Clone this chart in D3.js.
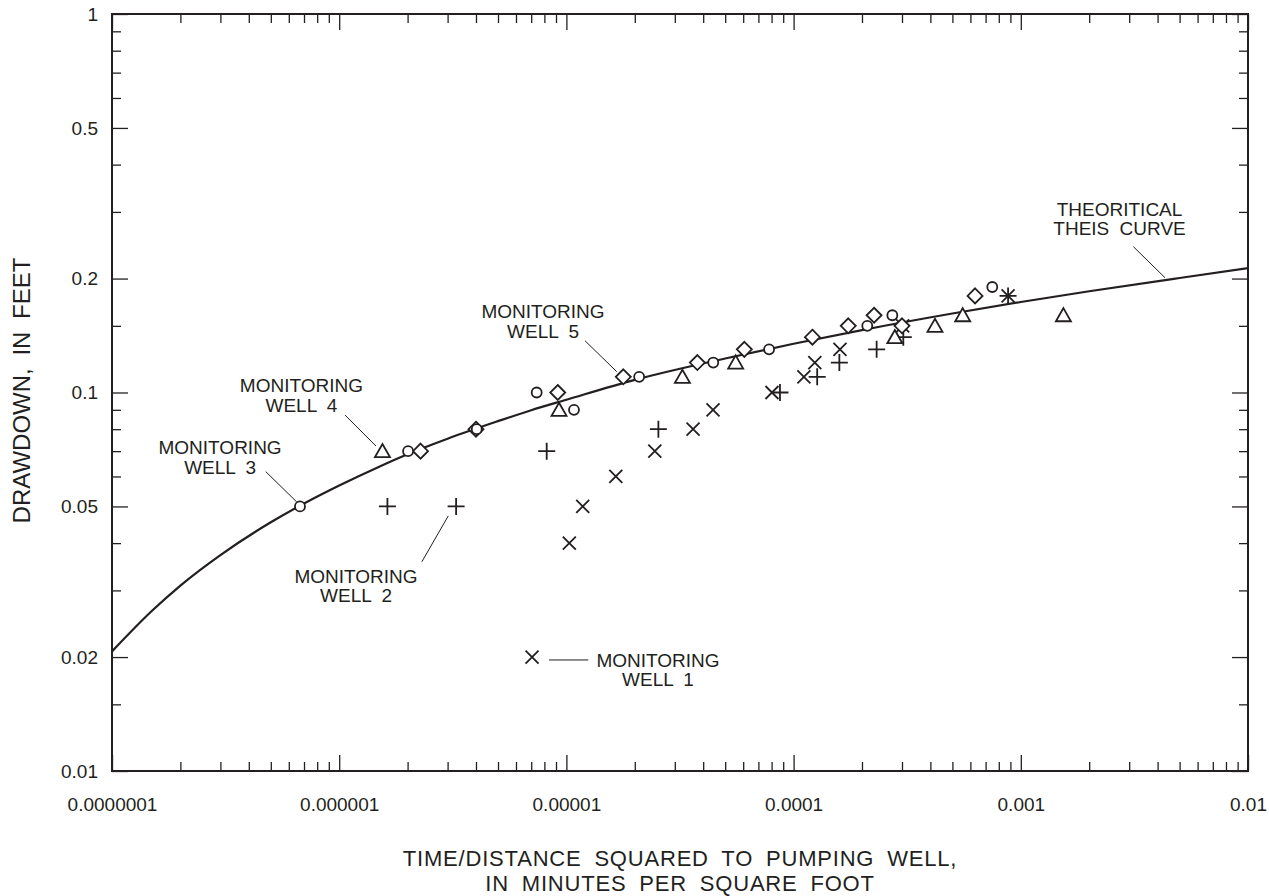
<!DOCTYPE html>
<html>
<head>
<meta charset="utf-8">
<script src="https://cdn.jsdelivr.net/npm/d3@7"></script>
<style>
  html, body { margin: 0; padding: 0; background: #fff; }
  svg { display: block; font-family: "Liberation Sans", Arial, Helvetica, sans-serif; }
</style>
</head>
<body>
<svg id="chart" width="1269" height="896"></svg>
<script>
// Axis ticks
const xTickValues = [1e-7, 1e-6, 1e-5, 1e-4, 1e-3, 1e-2];
const xTickLabels = ["0.0000001", "0.000001", "0.00001", "0.0001", "0.001", "0.01"];
const yTickValues = [0.01, 0.02, 0.05, 0.1, 0.2, 0.5, 1];
const yTickLabels = ["0.01", "0.02", "0.05", "0.1", "0.2", "0.5", "1"];
const yMinorTicks = [0.015, 0.03, 0.04, 0.06, 0.07, 0.08, 0.09, 0.15, 0.3, 0.4, 0.6, 0.7, 0.8, 0.9];

// Monitoring well observations: time/distance squared (min/ft^2) and drawdown (ft)
const well1X = [7.06e-6, 1.03e-5, 1.18e-5, 1.65e-5, 2.45e-5, 3.61e-5, 4.42e-5, 8.03e-5, 1.11e-4, 1.24e-4, 1.60e-4, 3.02e-4, 8.79e-4];
const well1Y = [0.02, 0.04, 0.05, 0.06, 0.07, 0.08, 0.09, 0.10, 0.11, 0.12, 0.13, 0.15, 0.18];
const well2X = [1.63e-6, 3.27e-6, 8.19e-6, 2.54e-5, 8.71e-5, 1.27e-4, 1.59e-4, 2.32e-4, 3.04e-4, 8.79e-4];
const well2Y = [0.05, 0.05, 0.07, 0.08, 0.10, 0.11, 0.12, 0.13, 0.14, 0.18];
const well3X = [6.72e-7, 2.01e-6, 4.03e-6, 7.40e-6, 1.08e-5, 2.09e-5, 4.43e-5, 7.8e-5, 2.11e-4, 2.72e-4, 7.49e-4];
const well3Y = [0.05, 0.07, 0.08, 0.10, 0.09, 0.11, 0.12, 0.13, 0.15, 0.16, 0.19];
const well4X = [1.55e-6, 9.28e-6, 3.24e-5, 5.56e-5, 2.79e-4, 4.19e-4, 5.55e-4, 1.54e-3];
const well4Y = [0.07, 0.09, 0.11, 0.12, 0.14, 0.15, 0.16, 0.16];
const well5X = [2.28e-6, 4.0e-6, 9.16e-6, 1.78e-5, 3.77e-5, 6.07e-5, 1.21e-4, 1.74e-4, 2.26e-4, 3.0e-4, 6.29e-4];
const well5Y = [0.07, 0.08, 0.10, 0.11, 0.12, 0.13, 0.14, 0.15, 0.16, 0.15, 0.18];

// Theoretical Theis type curve
const curveX = [1e-7, 1.5e-7, 2e-7, 3e-7, 5e-7, 7e-7, 1e-6, 1.5e-6, 2e-6, 3e-6, 5e-6, 7e-6, 1e-5, 2e-5, 5e-5, 1e-4, 2e-4, 5e-4, 1e-3, 2e-3, 5e-3, 1e-2];
const curveY = [0.0207, 0.0265, 0.0309, 0.0372, 0.0454, 0.0509, 0.0568, 0.0637, 0.0687, 0.0755, 0.0840, 0.0898, 0.0957, 0.1080, 0.1230, 0.1345, 0.1462, 0.1617, 0.1734, 0.1851, 0.2007, 0.2130];

// Callout labels: text lines, anchor (data space) and leader line ends (data space)
const callouts = [
  { lines: ["MONITORING", "WELL 1"], at: [2.53e-5, 0.01887], leader: [[8.38e-6, 0.01965], [1.249e-5, 0.01965]] },
  { lines: ["MONITORING", "WELL 2"], at: [1.186e-6, 0.0314], leader: [[3.02e-6, 0.0472], [2.31e-6, 0.0357]] },
  { lines: ["MONITORING", "WELL 3"], at: [2.99e-7, 0.0687], leader: [[4.75e-7, 0.0618], [6.50e-7, 0.0514]] },
  { lines: ["MONITORING", "WELL 4"], at: [6.82e-7, 0.1001], leader: [[1.06e-6, 0.0872], [1.452e-6, 0.0722]] },
  { lines: ["MONITORING", "WELL 5"], at: [7.89e-6, 0.157], leader: [[1.208e-5, 0.137], [1.665e-5, 0.1135]] },
  { lines: ["THEORITICAL", "THEIS CURVE"], at: [2.72e-3, 0.2927], leader: [[3.13e-3, 0.2428], [4.31e-3, 0.2011]] }
];

const ink = "#231f20";
const margin = { left: 112, right: 21, top: 14, bottom: 125 };
const W = 1269, H = 896;
const plotW = W - margin.left - margin.right;
const plotH = H - margin.top - margin.bottom;

const svg = d3.select("#chart");
const g = svg.append("g").attr("transform", `translate(${margin.left},${margin.top})`);

const x = d3.scaleLog().domain([1e-7, 1e-2]).range([0, plotW]);
const y = d3.scaleLog().domain([0.01, 1]).range([plotH, 0]);

const xMinor = x.ticks().filter(v => !xTickValues.some(t => Math.abs(t - v) / t < 1e-6));

// Axes with inward ticks on all four sides
function styleAxis(sel) {
  sel.select(".domain").remove();
  sel.selectAll(".tick line").attr("stroke", ink).attr("stroke-width", 1.3);
  sel.selectAll(".tick text").attr("fill", ink).attr("font-size", 19);
}
const fmtX = v => xTickLabels[xTickValues.findIndex(t => Math.abs(t - v) / t < 1e-6)];
const fmtY = v => yTickLabels[yTickValues.findIndex(t => Math.abs(t - v) / t < 1e-6)];

g.append("g").attr("transform", `translate(0,${plotH})`)
  .call(d3.axisBottom(x).tickValues(xTickValues).tickFormat(fmtX).tickSize(-16).tickPadding(27)).call(styleAxis);
g.append("g").attr("transform", `translate(0,${plotH})`)
  .call(d3.axisBottom(x).tickValues(xMinor).tickFormat("").tickSize(-9)).call(styleAxis);
g.append("g")
  .call(d3.axisTop(x).tickValues(xTickValues).tickFormat("").tickSize(-16)).call(styleAxis);
g.append("g")
  .call(d3.axisTop(x).tickValues(xMinor).tickFormat("").tickSize(-9)).call(styleAxis);

g.append("g")
  .call(d3.axisLeft(y).tickValues(yTickValues).tickFormat(fmtY).tickSize(-16).tickPadding(14)).call(styleAxis);
g.append("g")
  .call(d3.axisLeft(y).tickValues(yMinorTicks).tickFormat("").tickSize(-9)).call(styleAxis);
g.append("g").attr("transform", `translate(${plotW},0)`)
  .call(d3.axisRight(y).tickValues(yTickValues).tickFormat("").tickSize(-16)).call(styleAxis);
g.append("g").attr("transform", `translate(${plotW},0)`)
  .call(d3.axisRight(y).tickValues(yMinorTicks).tickFormat("").tickSize(-9)).call(styleAxis);

// Frame
g.append("rect").attr("width", plotW).attr("height", plotH)
  .attr("fill", "none").attr("stroke", ink).attr("stroke-width", 2);

// Theis curve
g.append("clipPath").attr("id", "plotClip").append("rect").attr("width", plotW).attr("height", plotH);
const curvePts = curveX.map((v, i) => [v, curveY[i]]);
g.append("path")
  .datum(curvePts)
  .attr("clip-path", "url(#plotClip)")
  .attr("fill", "none").attr("stroke", ink).attr("stroke-width", 2.2)
  .attr("d", d3.line().x(d => x(d[0])).y(d => y(d[1])).curve(d3.curveMonotoneX));

// Marker shapes
const shapes = {
  times: s => `M${-s},${-s}L${s},${s}M${-s},${s}L${s},${-s}`,
  plus: s => `M${-s},0L${s},0M0,${-s}L0,${s}`,
  circle: s => `M${s},0A${s},${s} 0 1,1 ${-s},0A${s},${s} 0 1,1 ${s},0Z`,
  triangle: s => `M0,${-s * 0.95}L${s},${s * 0.8}L${-s},${s * 0.8}Z`,
  diamond: s => `M0,${-s}L${s},0L0,${s}L${-s},0Z`
};
const series = [
  { xs: well1X, ys: well1Y, shape: "times", size: 6.5 },
  { xs: well2X, ys: well2Y, shape: "plus", size: 8.5 },
  { xs: well4X, ys: well4Y, shape: "triangle", size: 7.5 },
  { xs: well5X, ys: well5Y, shape: "diamond", size: 7.5 },
  { xs: well3X, ys: well3Y, shape: "circle", size: 5 }
];
series.forEach(s => {
  const pts = s.xs.map((v, i) => [v, s.ys[i]]);
  g.append("g").selectAll("path").data(pts).join("path")
    .attr("transform", d => `translate(${x(d[0])},${y(d[1])})`)
    .attr("d", shapes[s.shape](s.size))
    .attr("fill", s.shape === "times" || s.shape === "plus" ? "none" : "#fff")
    .attr("stroke", ink).attr("stroke-width", 1.8);
});

// Callouts
callouts.forEach(c => {
  g.append("line")
    .attr("x1", x(c.leader[0][0])).attr("y1", y(c.leader[0][1]))
    .attr("x2", x(c.leader[1][0])).attr("y2", y(c.leader[1][1]))
    .attr("stroke", ink).attr("stroke-width", 1);
  const t = g.append("text")
    .attr("x", x(c.at[0])).attr("y", y(c.at[1]))
    .attr("text-anchor", "middle").attr("font-size", 19).attr("fill", ink)
    .attr("word-spacing", 5);
  c.lines.forEach((ln, i) => {
    t.append("tspan").attr("x", x(c.at[0])).attr("dy", i === 0 ? 0 : 19.5).text(ln);
  });
});

// Axis titles
const titleX = margin.left + plotW / 2;
svg.append("text")
  .attr("x", titleX).attr("y", 866)
  .attr("text-anchor", "middle").attr("font-size", 22).attr("fill", ink)
  .attr("letter-spacing", 0.8).attr("word-spacing", 6)
  .text("TIME/DISTANCE SQUARED TO PUMPING WELL,");
svg.append("text")
  .attr("x", titleX).attr("y", 891)
  .attr("text-anchor", "middle").attr("font-size", 22).attr("fill", ink)
  .attr("letter-spacing", 0.8).attr("word-spacing", 6)
  .text("IN MINUTES PER SQUARE FOOT");

svg.append("text")
  .attr("transform", `translate(30,${margin.top + y(0.1) - 2}) rotate(-90)`)
  .attr("text-anchor", "middle").attr("font-size", 24).attr("fill", ink).attr("word-spacing", 6)
  .text("DRAWDOWN, IN FEET");
</script>
</body>
</html>
